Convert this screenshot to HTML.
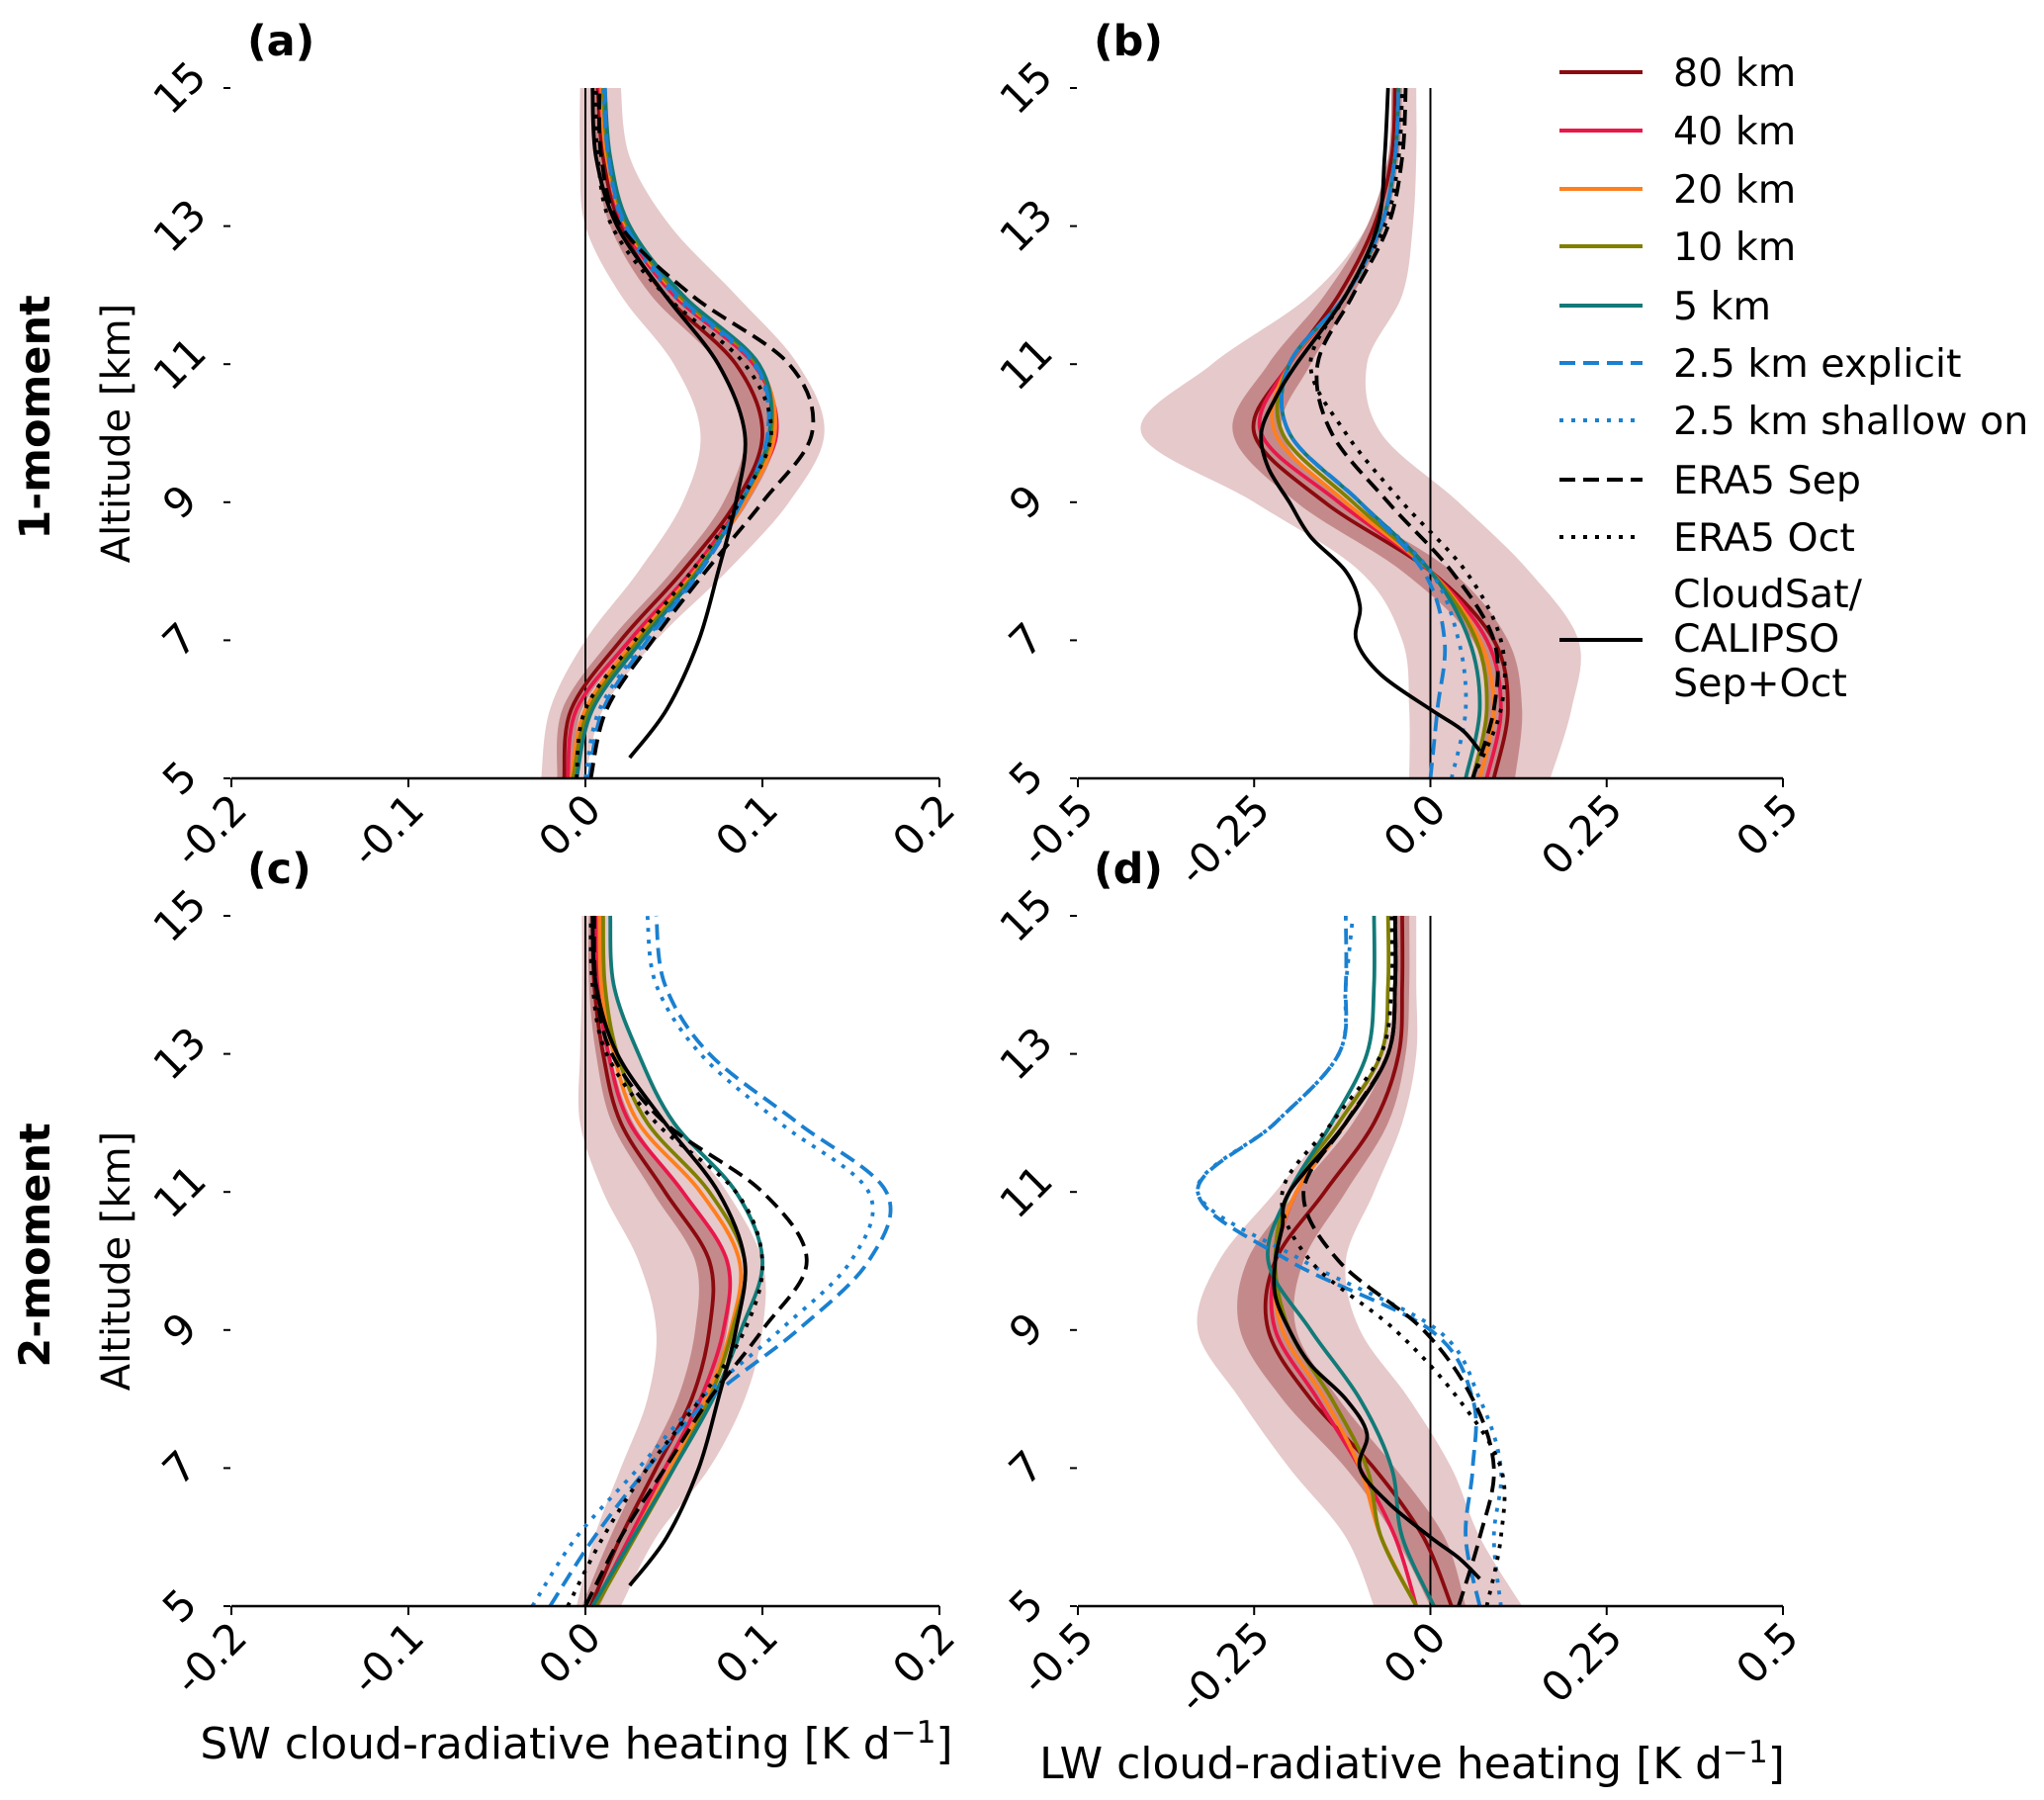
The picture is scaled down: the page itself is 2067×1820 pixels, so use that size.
<!DOCTYPE html>
<html><head><meta charset="utf-8">
<style>
html,body{margin:0;padding:0;background:#fff;}
svg{display:block;font-family:"DejaVu Sans","Liberation Sans",sans-serif;}
</style></head>
<body>
<svg id="chart" width="2067" height="1820" viewBox="0 0 2067 1820" xmlns="http://www.w3.org/2000/svg"></svg>
<script>
// ---------- data ----------
const altitudes = [5,6,7,8,9,10,11,12,13,14,15];
const seriesNames = ["80 km","40 km","20 km","10 km","5 km","2.5 km explicit","2.5 km shallow on","ERA5 Sep","ERA5 Oct"];
const seriesColors = ["#8b0a0f","#e8184a","#ff7f1e","#7f7f00","#127a78","#1a80d0","#1a80d0","#000000","#000000"];
const seriesDash = ["","","","","","16,8","4,8","16,8","4,8"];

// panel a (SW, 1-moment)
const a80 = [-0.012,-0.008,0.02,0.055,0.085,0.1,0.085,0.045,0.02,0.01,0.007];
const a40 = [-0.01,-0.005,0.025,0.06,0.088,0.108,0.095,0.05,0.022,0.012,0.008];
const a20 = [-0.008,0,0.028,0.062,0.09,0.107,0.097,0.052,0.023,0.012,0.009];
const a10 = [-0.007,0.002,0.03,0.063,0.088,0.105,0.097,0.053,0.024,0.013,0.01];
const a5 = [-0.005,0.004,0.032,0.064,0.088,0.104,0.098,0.055,0.025,0.014,0.011];
const a25e = [0.002,0.01,0.035,0.065,0.088,0.103,0.096,0.052,0.023,0.013,0.011];
const a25s = [0,0.008,0.034,0.064,0.088,0.103,0.095,0.05,0.022,0.013,0.01];
const aSep = [0.003,0.012,0.038,0.068,0.1,0.128,0.115,0.06,0.02,0.009,0.008];
const aOct = [-0.005,0,0.028,0.06,0.087,0.105,0.09,0.045,0.015,0.007,0.006];
const aShadeLo = [-0.025,-0.02,0,0.03,0.055,0.065,0.05,0.02,0,-0.003,-0.003];
const aShadeHi = [0,0.01,0.04,0.08,0.115,0.135,0.12,0.085,0.048,0.025,0.02];
const aDarkLo = [-0.016,-0.013,0.014,0.049,0.078,0.09,0.075,0.037,0.014,0.006,0.004];
const aDarkHi = [-0.006,-0.002,0.027,0.062,0.092,0.108,0.095,0.052,0.025,0.014,0.011];

// panel b (LW, 1-moment)
const b80 = [0.09,0.11,0.09,0,-0.15,-0.25,-0.2,-0.13,-0.08,-0.055,-0.05];
const b40 = [0.08,0.1,0.08,0,-0.13,-0.24,-0.2,-0.12,-0.07,-0.05,-0.045];
const b20 = [0.07,0.09,0.07,0,-0.12,-0.22,-0.2,-0.12,-0.07,-0.05,-0.045];
const b10 = [0.06,0.08,0.065,0,-0.11,-0.21,-0.2,-0.12,-0.07,-0.05,-0.045];
const b5 = [0.05,0.07,0.055,0,-0.1,-0.2,-0.2,-0.12,-0.07,-0.05,-0.045];
const b25e = [0,0.01,0.02,-0.01,-0.1,-0.2,-0.2,-0.12,-0.07,-0.05,-0.045];
const b25s = [0.03,0.05,0.04,0,-0.1,-0.2,-0.2,-0.12,-0.07,-0.05,-0.045];
const bSep = [0.06,0.09,0.09,0.03,-0.06,-0.14,-0.16,-0.11,-0.06,-0.04,-0.035];
const bOct = [0.06,0.1,0.1,0.05,-0.04,-0.12,-0.17,-0.12,-0.065,-0.045,-0.04];
const bShadeLo = [-0.03,-0.03,-0.04,-0.1,-0.25,-0.41,-0.31,-0.17,-0.09,-0.06,-0.055];
const bShadeHi = [0.17,0.2,0.21,0.14,0.04,-0.07,-0.09,-0.04,-0.025,-0.02,-0.02];
const bDarkLo = [0.06,0.08,0.06,-0.04,-0.19,-0.28,-0.23,-0.15,-0.09,-0.06,-0.055];
const bDarkHi = [0.12,0.13,0.11,0.03,-0.12,-0.21,-0.17,-0.11,-0.065,-0.045,-0.04];

// panel c (SW, 2-moment)
const c80 = [0.003,0.02,0.04,0.06,0.07,0.07,0.045,0.02,0.01,0.005,0.004];
const c40 = [0.005,0.025,0.045,0.065,0.078,0.08,0.055,0.025,0.013,0.007,0.006];
const c20 = [0.006,0.027,0.048,0.068,0.082,0.087,0.065,0.03,0.016,0.009,0.008];
const c10 = [0.006,0.028,0.05,0.07,0.083,0.09,0.07,0.035,0.018,0.011,0.01];
const c5 = [0.004,0.027,0.05,0.072,0.088,0.1,0.085,0.05,0.03,0.016,0.014];
const c25e = [-0.02,0.005,0.035,0.07,0.12,0.16,0.17,0.12,0.07,0.045,0.04];
const c25s = [-0.03,-0.005,0.03,0.065,0.11,0.15,0.16,0.11,0.065,0.04,0.035];
const cSep = [0,0.02,0.045,0.07,0.1,0.125,0.1,0.045,0.015,0.006,0.005];
const cOct = [-0.01,0.01,0.035,0.065,0.09,0.1,0.085,0.04,0.012,0.004,0.003];
const cShadeLo = [-0.005,0.005,0.02,0.035,0.04,0.03,0.01,-0.003,-0.003,-0.002,-0.002];
const cShadeHi = [0.02,0.04,0.07,0.09,0.1,0.1,0.08,0.05,0.03,0.015,0.014];
const cDarkLo = [-0.002,0.014,0.033,0.052,0.062,0.062,0.038,0.015,0.006,0.002,0.002];
const cDarkHi = [0.008,0.027,0.048,0.068,0.08,0.08,0.055,0.027,0.014,0.008,0.007];

// panel d (LW, 2-moment)
const d80 = [0.03,-0.01,-0.08,-0.17,-0.23,-0.22,-0.15,-0.08,-0.045,-0.04,-0.04];
const d40 = [-0.02,-0.05,-0.1,-0.16,-0.22,-0.22,-0.19,-0.12,-0.06,-0.05,-0.05];
const d20 = [-0.02,-0.07,-0.1,-0.15,-0.21,-0.22,-0.19,-0.12,-0.06,-0.05,-0.05];
const d10 = [-0.02,-0.07,-0.09,-0.14,-0.2,-0.22,-0.2,-0.13,-0.07,-0.06,-0.06];
const d5 = [0.005,-0.04,-0.055,-0.1,-0.17,-0.23,-0.2,-0.14,-0.09,-0.08,-0.08];
const d25e = [0.07,0.05,0.06,0.06,0,-0.2,-0.33,-0.22,-0.13,-0.12,-0.12];
const d25s = [0.1,0.09,0.1,0.07,0.01,-0.18,-0.33,-0.22,-0.13,-0.12,-0.11];
const dSep = [0.04,0.07,0.09,0.06,-0.01,-0.13,-0.18,-0.12,-0.06,-0.05,-0.05];
const dOct = [0.08,0.1,0.1,0.04,-0.05,-0.17,-0.21,-0.14,-0.07,-0.055,-0.055];
const dShadeLo = [-0.08,-0.12,-0.2,-0.27,-0.33,-0.3,-0.22,-0.14,-0.07,-0.05,-0.05];
const dShadeHi = [0.13,0.07,0.03,-0.03,-0.1,-0.12,-0.08,-0.04,-0.02,-0.02,-0.02];
const dDarkLo = [0,-0.05,-0.12,-0.21,-0.27,-0.26,-0.19,-0.11,-0.06,-0.05,-0.05];
const dDarkHi = [0.05,0.02,-0.05,-0.13,-0.19,-0.18,-0.12,-0.06,-0.035,-0.03,-0.03];

// CloudSat/CALIPSO observations
const obsAltSW = [5.3,6,7,8,9,10,11,12,13,14,15];
const obsSW = [0.025,0.046,0.064,0.075,0.085,0.09,0.075,0.045,0.018,0.006,0.004];
const obsAltLW = [5.4,5.7,6,6.5,7,7.5,8,8.5,9,9.5,10,10.5,11,12,13,14,15];
const obsLW1 = [0.07,0.045,0,-0.07,-0.105,-0.1,-0.12,-0.17,-0.2,-0.23,-0.24,-0.22,-0.19,-0.12,-0.075,-0.065,-0.06];
const obsLW2 = [0.07,0.04,0,-0.06,-0.1,-0.09,-0.12,-0.17,-0.2,-0.22,-0.22,-0.21,-0.2,-0.12,-0.06,-0.05,-0.05];

const yTicks = [5,7,9,11,13,15];
const swTicks = [-0.2,-0.1,0,0.1,0.2];
const swTickLabels = ["-0.2","-0.1","0.0","0.1","0.2"];
const lwTicks = [-0.5,-0.25,0,0.25,0.5];
const lwTickLabels = ["-0.5","-0.25","0.0","0.25","0.5"];

// ---------- drawing ----------
const svg = document.getElementById('chart');
const NS = 'http://www.w3.org/2000/svg';
function mk(tag, attrs, parent){
  const e = document.createElementNS(NS, tag);
  for (const k in attrs) e.setAttribute(k, attrs[k]);
  (parent||svg).appendChild(e);
  return e;
}
function smoothPath(pts){
  if (pts.length < 2) return '';
  let d = 'M' + pts[0][0].toFixed(1) + ',' + pts[0][1].toFixed(1);
  for (let i = 0; i < pts.length - 1; i++){
    const p0 = pts[Math.max(0,i-1)], p1 = pts[i], p2 = pts[i+1], p3 = pts[Math.min(pts.length-1,i+2)];
    const c1x = p1[0] + (p2[0]-p0[0])/6, c1y = p1[1] + (p2[1]-p0[1])/6;
    const c2x = p2[0] - (p3[0]-p1[0])/6, c2y = p2[1] - (p3[1]-p1[1])/6;
    d += 'C' + c1x.toFixed(1)+','+c1y.toFixed(1)+' '+c2x.toFixed(1)+','+c2y.toFixed(1)+' '+p2[0].toFixed(1)+','+p2[1].toFixed(1);
  }
  return d;
}

function drawPanel(cfg){
  const g = mk('g', {});
  
  
  const xs = v => cfg.x0 + (v - cfg.xmin) / (cfg.xmax - cfg.xmin) * (cfg.x1 - cfg.x0);
  const ys = v => cfg.y1 - (v - 5) / 10 * (cfg.y1 - cfg.y0);

  function band(lo, hi, color, nm){
    const up = altitudes.map((a,i)=>[xs(hi[i]), ys(a)]);
    const dn = altitudes.map((a,i)=>[xs(lo[i]), ys(a)]).reverse();
    const d = smoothPath(up) + smoothPath(dn).replace('M','L') + 'Z';
    const p = mk('path', {d:d, fill:color, stroke:'none'}, g);
    
    
  }
  band(cfg.shadeLo, cfg.shadeHi, '#e6c9ca', 'spread-shading');
  band(cfg.darkLo, cfg.darkHi, '#c48a8b', 'inner-spread-shading');

  const zl = mk('line', {x1:xs(0), x2:xs(0), y1:cfg.y0, y2:cfg.y1, stroke:'#000', 'stroke-width':2}, g);
  
  

  cfg.series.forEach((vals, si) => {
    const pts = altitudes.map((a,i)=>[xs(vals[i]), ys(a)]);
    const attrs = {d:smoothPath(pts), fill:'none', stroke:seriesColors[si], 'stroke-width':3.8, 'stroke-linejoin':'round'};
    if (seriesDash[si]) attrs['stroke-dasharray'] = seriesDash[si];
    const p = mk('path', attrs, g);
    
    
  });
  const opts = cfg.obsAlt.map((a,i)=>[xs(cfg.obs[i]), ys(a)]);
  const op = mk('path', {d:smoothPath(opts), fill:'none', stroke:'#000', 'stroke-width':3.8}, g);
  
  

  const ax = mk('line', {x1:cfg.x0, x2:cfg.x1, y1:cfg.y1, y2:cfg.y1, stroke:'#000', 'stroke-width':2.4}, g);
  
  
  cfg.xticks.forEach((t,i)=>{
    const x = xs(t);
    const tk = mk('line', {x1:x, x2:x, y1:cfg.y1, y2:cfg.y1+9, stroke:'#000', 'stroke-width':2}, g);
    
    
    const tx = x + 18, ty = cfg.y1 + 34;
    const lb = mk('text', {x:tx, y:ty, 'font-size':42, 'text-anchor':'end', transform:'rotate(-45 '+tx+' '+ty+')'}, g);
    lb.textContent = cfg.xlabels[i];
    
    
  });
  yTicks.forEach(t=>{
    const y = ys(t);
    const tk = mk('line', {x1:cfg.x0-8, x2:cfg.x0-1, y1:y, y2:y, stroke:'#000', 'stroke-width':2}, g);
    
    
    const tx = cfg.x0 - 52, ty = y;
    const lb = mk('text', {x:tx, y:ty+14, 'font-size':42, 'text-anchor':'middle', transform:'rotate(-45 '+tx+' '+ty+')'}, g);
    lb.textContent = String(t);
    
    
  });
  const pl = mk('text', {x:cfg.x0+16, y:cfg.y0-33, 'font-size':43, 'font-weight':'bold'}, g);
  pl.textContent = cfg.label;
  
  
}

const top0 = 89, top1 = 787, bot0 = 926, bot1 = 1624;
drawPanel({name:'panel-a', label:'(a)', x0:234, x1:950, xmin:-0.2, xmax:0.2, y0:top0, y1:top1,
  series:[a80,a40,a20,a10,a5,a25e,a25s,aSep,aOct], shadeLo:aShadeLo, shadeHi:aShadeHi, darkLo:aDarkLo, darkHi:aDarkHi,
  obsAlt:obsAltSW, obs:obsSW, xticks:swTicks, xlabels:swTickLabels});
drawPanel({name:'panel-b', label:'(b)', x0:1090, x1:1803, xmin:-0.5, xmax:0.5, y0:top0, y1:top1,
  series:[b80,b40,b20,b10,b5,b25e,b25s,bSep,bOct], shadeLo:bShadeLo, shadeHi:bShadeHi, darkLo:bDarkLo, darkHi:bDarkHi,
  obsAlt:obsAltLW, obs:obsLW1, xticks:lwTicks, xlabels:lwTickLabels});
drawPanel({name:'panel-c', label:'(c)', x0:234, x1:950, xmin:-0.2, xmax:0.2, y0:bot0, y1:bot1,
  series:[c80,c40,c20,c10,c5,c25e,c25s,cSep,cOct], shadeLo:cShadeLo, shadeHi:cShadeHi, darkLo:cDarkLo, darkHi:cDarkHi,
  obsAlt:obsAltSW, obs:obsSW, xticks:swTicks, xlabels:swTickLabels});
drawPanel({name:'panel-d', label:'(d)', x0:1090, x1:1803, xmin:-0.5, xmax:0.5, y0:bot0, y1:bot1,
  series:[d80,d40,d20,d10,d5,d25e,d25s,dSep,dOct], shadeLo:dShadeLo, shadeHi:dShadeHi, darkLo:dDarkLo, darkHi:dDarkHi,
  obsAlt:obsAltLW, obs:obsLW2, xticks:lwTicks, xlabels:lwTickLabels});

// legend
const lg = mk('g', {});


const legY = [73,132,191,249,309,367,425,485,543];
seriesNames.forEach((n,i)=>{
  const attrs = {x1:1577, x2:1661, y1:legY[i], y2:legY[i], stroke:seriesColors[i], 'stroke-width':4};
  if (seriesDash[i]) attrs['stroke-dasharray'] = seriesDash[i];
  const l = mk('line', attrs, lg);
  
  
  const t = mk('text', {x:1692, y:legY[i]+14, 'font-size':39.5}, lg);
  t.textContent = n;
  
  
});
const ol = mk('line', {x1:1577, x2:1661, y1:647, y2:647, stroke:'#000', 'stroke-width':4}, lg);


['CloudSat/','CALIPSO','Sep+Oct'].forEach((s,i)=>{
  const t = mk('text', {x:1692, y:614+i*45, 'font-size':39.5}, lg);
  t.textContent = s;
  
  
});

function txt(s, attrs, nm){
  const t = mk('text', attrs);
  t.textContent = s;
  
  
  return t;
}
txt('1-moment', {x:0, y:0, 'font-size':43, 'font-weight':'bold', 'text-anchor':'middle', transform:'translate(50 422) rotate(-90)'}, 'row-title-1-moment');
txt('Altitude [km]', {x:0, y:0, 'font-size':40, 'text-anchor':'middle', transform:'translate(131 438) rotate(-90)'}, 'y-axis-title');
txt('2-moment', {x:0, y:0, 'font-size':43, 'font-weight':'bold', 'text-anchor':'middle', transform:'translate(50 1259) rotate(-90)'}, 'row-title-2-moment');
txt('Altitude [km]', {x:0, y:0, 'font-size':40, 'text-anchor':'middle', transform:'translate(131 1275) rotate(-90)'}, 'y-axis-title');
const sw = mk('text', {x:583, y:1778, 'font-size':44, 'text-anchor':'middle'});


sw.innerHTML = 'SW cloud-radiative heating [K d<tspan dy="-16" font-size="31">−1</tspan><tspan dy="16">]</tspan>';
const lw = mk('text', {x:1428, y:1798, 'font-size':44, 'text-anchor':'middle'});


lw.innerHTML = 'LW cloud-radiative heating [K d<tspan dy="-16" font-size="31">−1</tspan><tspan dy="16">]</tspan>';
</script>
</body></html>
